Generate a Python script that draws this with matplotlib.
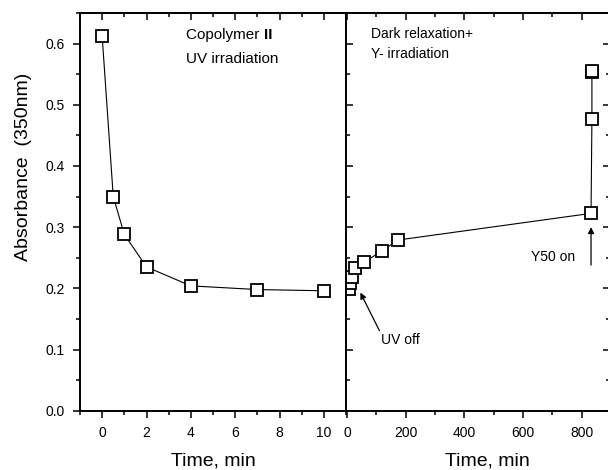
import matplotlib
matplotlib.use("Agg")
import matplotlib.pyplot as plt
from matplotlib.ticker import MultipleLocator, FormatStrFormatter

plt.rcParams['font.family'] = ['Liberation Sans', 'DejaVu Sans']

# Left panel: UV irradiation
uv_time = [0, 0.5, 1, 2, 4, 7, 10]
uv_abs = [0.612, 0.350, 0.288, 0.235, 0.204, 0.198, 0.196]

# Right panel: dark relaxation + Y irradiation
dark_time = [6, 10, 16, 27, 57, 118, 174, 832, 835, 835, 836]
dark_abs = [0.199, 0.209, 0.219, 0.234, 0.2425, 0.261, 0.279, 0.3225, 0.476, 0.553, 0.556]

W, H = 608, 470
fig = plt.figure(figsize=(W / 100, H / 100), dpi=100)

def fx(px):
    return px / W

def fy(py):
    return 1 - py / H

bottom = fy(410.7)
top = fy(13)
ax1 = fig.add_axes([fx(80), bottom, fx(346) - fx(80), top - bottom])
ax2 = fig.add_axes([fx(346), bottom, fx(609.5) - fx(346), top - bottom], sharey=ax1)

mk = dict(marker='s', markersize=8.6, markerfacecolor='white', markeredgecolor='black',
          markeredgewidth=1.3, color='black', linewidth=0.8)
ax1.plot(uv_time, uv_abs, **mk)
ax2.plot(dark_time, dark_abs, **mk)

ax1.set_xlim(-1, 11)
ax1.set_ylim(0, 0.65)
ax2.set_xlim(-4, 895)

ax1.xaxis.set_major_locator(MultipleLocator(2))
ax1.xaxis.set_minor_locator(MultipleLocator(1))
ax1.yaxis.set_major_locator(MultipleLocator(0.1))
ax1.yaxis.set_minor_locator(MultipleLocator(0.05))
ax1.yaxis.set_major_formatter(FormatStrFormatter('%.1f'))
ax2.xaxis.set_major_locator(MultipleLocator(200))
ax2.xaxis.set_minor_locator(MultipleLocator(100))

for ax in (ax1, ax2):
    for s in ax.spines.values():
        s.set_linewidth(1.4)
    ax.tick_params(which='both', width=1.1, labelsize=10)
    ax.tick_params(which='major', length=5)
    ax.tick_params(which='minor', length=3)

ax1.tick_params(axis='x', which='both', direction='out', top=False, pad=6)
ax1.tick_params(axis='y', which='both', direction='out', left=True, right=False, pad=6)
ax2.tick_params(axis='x', which='both', direction='out', top=False, pad=6)
ax2.tick_params(axis='y', which='both', direction='in', left=True, right=True, labelleft=False)

# top ticks pointing inward
for ax, maj, mnr in ((ax1, 2, 1), (ax2, 200, 100)):
    sec = ax.secondary_xaxis('top')
    sec.xaxis.set_major_locator(MultipleLocator(maj))
    sec.xaxis.set_minor_locator(MultipleLocator(mnr))
    sec.tick_params(which='both', direction='in', labeltop=False, width=1.1)
    sec.tick_params(which='major', length=5)
    sec.tick_params(which='minor', length=3)
    sec.spines['top'].set_linewidth(1.4)

# Texts
t = ax1.text(3.78, 0.607, 'Copolymer ', fontsize=11, ha='left', va='baseline')
fig.canvas.draw()
bb = t.get_window_extent()
xr = ax1.transData.inverted().transform((bb.x1, bb.y0))[0]
ax1.text(xr, 0.607, 'II', fontsize=11, fontweight='bold', ha='left', va='baseline')
ax1.text(3.78, 0.5687, 'UV irradiation', fontsize=11, ha='left', va='baseline')

ax2.text(80, 0.6085, 'Dark relaxation+', fontsize=10, ha='left', va='baseline')
ax2.text(80, 0.576, 'Y- irradiation', fontsize=10, ha='left', va='baseline')

ax2.annotate('UV off', xy=(45, 0.193), xytext=(117, 0.115), fontsize=10,
             ha='left', va='center',
             arrowprops=dict(arrowstyle='-|>', color='black', lw=0.9,
                             mutation_scale=9, shrinkA=0, shrinkB=0,
                             relpos=(0, 0.9)))
ax2.text(779, 0.2516, 'Y50 on', fontsize=10, ha='right', va='center')
ax2.annotate('', xy=(832, 0.300), xytext=(832, 0.238),
             arrowprops=dict(arrowstyle='-|>', color='black', lw=0.9,
                             mutation_scale=9, shrinkA=0, shrinkB=0))

fig.text(fx(24), fy(167), 'Absorbance  (350nm)', rotation=90, fontsize=14,
         ha='center', va='center')
fig.text(fx(213), fy(466), 'Time, min', fontsize=14, ha='center', va='baseline')
fig.text(fx(487), fy(466), 'Time, min', fontsize=14, ha='center', va='baseline')

fig.savefig('out.png', dpi=100)
